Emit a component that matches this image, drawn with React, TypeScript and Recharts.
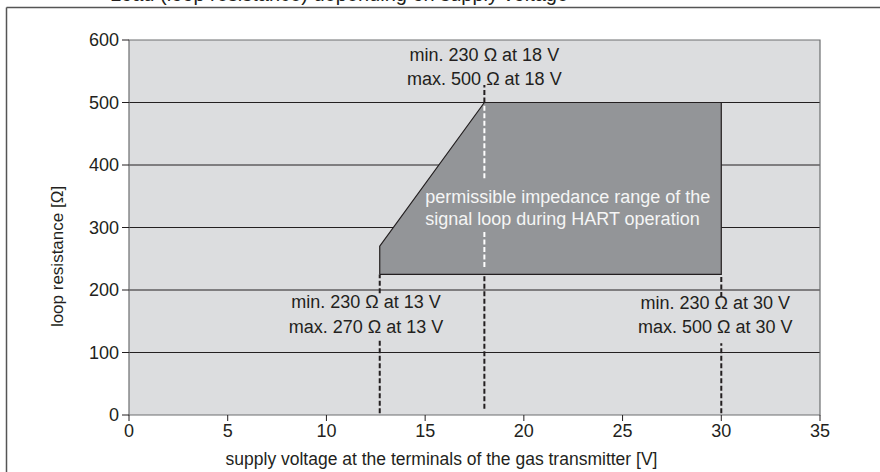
import React from 'react';
import {
  ComposedChart,
  Area,
  Line,
  XAxis,
  YAxis,
  CartesianGrid,
  ReferenceArea,
  ReferenceLine,
  ReferenceDot,
} from 'recharts';

const FONT = '"Liberation Sans", Arial, Helvetica, sans-serif';
const INK = '#231f20';

const xTicks = [0, 5, 10, 15, 20, 25, 30, 35];
const yTicks = [0, 100, 200, 300, 400, 500, 600];
const gridOhms = [100, 200, 300, 400, 500];

// permissible range: supply voltage -> min / max loop resistance
const rangeVolts = [12.7, 18, 30];
const rangeMinOhms = [225, 225, 225];
const rangeMaxOhms = [270, 500, 500];

// outline of the same range, walked round once
const outlineVolts = [12.7, 12.7, 18, 30, 30, 12.7];
const outlineOhms = [225, 270, 500, 500, 225, 225];

// dashed marker lines (voltage, from ohm, to ohm, white or black)
const markerVolts = [12.7, 12.7, 18, 18, 18, 18, 30, 30];
const markerFrom = [3, 195, 10, 237, 379, 500, 3, 189];
const markerTo = [120, 225, 225, 296, 499, 528, 115, 225];
const markerWhite = [false, false, false, true, true, false, false, false];

// annotations
const noteTexts = [
  'min. 230 Ω at 18 V',
  'max. 500 Ω at 18 V',
  'permissible impedance range of the',
  'signal loop during HART operation',
  'min. 230 Ω at 13 V',
  'max. 270 Ω at 13 V',
  'min. 230 Ω at 30 V',
  'max. 500 Ω at 30 V',
];
const noteVolts = [18, 18, 15, 15, 12, 12, 29.7, 29.7];
const noteOhms = [576, 538, 349, 314, 181, 141, 180, 141];
const noteInside = [false, false, true, true, false, false, false, false];

const xTitle = 'supply voltage at the terminals of the gas transmitter [V]';
const yTitle = 'loop resistance [Ω]';
const pageTitle = 'Load (loop resistance) depending on supply voltage';

const rangeData = rangeVolts.map((v, i) => ({ v, band: [rangeMinOhms[i], rangeMaxOhms[i]] }));
const outlineData = outlineVolts.map((v, i) => ({ v, ohm: outlineOhms[i] }));

const XTitle = ({ viewBox }: any) => (
  <text
    x={viewBox.x + viewBox.width / 2 - 33}
    y={viewBox.y + 50}
    textAnchor="middle"
    fill={INK}
    fontSize={17.5}
  >
    {xTitle}
  </text>
);

const YTitle = ({ viewBox }: any) => {
  const cx = 57;
  const cy = viewBox.y + viewBox.height / 2 + 29;
  return (
    <text
      x={cx}
      y={cy}
      transform={`rotate(-90, ${cx}, ${cy})`}
      textAnchor="middle"
      dominantBaseline="central"
      fill={INK}
      fontSize={17}
    >
      {yTitle}
    </text>
  );
};

export default function App() {
  return (
    <div
      style={{
        position: 'absolute',
        left: 0,
        top: 0,
        width: 880,
        height: 472,
        overflow: 'hidden',
        background: '#fff',
        fontFamily: FONT,
      }}
    >
      <svg width={880} height={472} style={{ position: 'absolute', left: 0, top: 0 }}>
        <text x={110} y={1} fill={INK} fontSize={20}>
          {pageTitle}
        </text>
        <line x1={6.5} y1={7.5} x2={880} y2={7.5} stroke="#555" strokeWidth={1.5} />
        <line x1={6.5} y1={7.5} x2={6.5} y2={472} stroke="#555" strokeWidth={1.5} />
      </svg>
      <div style={{ position: 'absolute', left: 0, top: 0 }}>
        <ComposedChart width={880} height={472} margin={{ top: 40, right: 60, bottom: 0, left: 0 }}>
          <CartesianGrid
            horizontal
            vertical={false}
            horizontalValues={gridOhms}
            stroke={INK}
            strokeWidth={1}
            fill="#dcdddf"
            fillOpacity={1}
          />
          <XAxis
            type="number"
            dataKey="v"
            domain={[0, 35]}
            ticks={xTicks}
            allowDataOverflow
            axisLine={false}
            tickLine={{ stroke: INK }}
            tickSize={6}
            tickMargin={3}
            height={57}
            tick={{ fill: INK, fontSize: 18 }}
            label={{ content: XTitle }}
          />
          <YAxis
            type="number"
            domain={[0, 600]}
            ticks={yTicks}
            allowDataOverflow
            axisLine={false}
            tickLine={{ stroke: INK }}
            tickSize={7}
            tickMargin={3}
            width={129}
            tick={{ fill: INK, fontSize: 18 }}
            label={{ content: YTitle }}
          />
          <ReferenceArea x1={0} x2={35} y1={0} y2={600} fill="none" stroke="#6d6e70" strokeWidth={1.2} />
          <Area
            data={rangeData}
            dataKey="band"
            type="linear"
            fill="#939598"
            fillOpacity={1}
            stroke="none"
            isAnimationActive={false}
          />
          <Line
            data={outlineData}
            dataKey="ohm"
            type="linear"
            stroke={INK}
            strokeWidth={1.2}
            dot={false}
            isAnimationActive={false}
          />
          {markerVolts.map((v, i) => (
            <ReferenceLine
              key={`m${i}`}
              segment={[
                { x: v, y: markerFrom[i] },
                { x: v, y: markerTo[i] },
              ]}
              stroke={markerWhite[i] ? '#ffffff' : INK}
              strokeWidth={2}
              strokeDasharray="5 2.5"
            />
          ))}
          {noteTexts.map((t, i) => (
            <ReferenceDot
              key={`n${i}`}
              x={noteVolts[i]}
              y={noteOhms[i]}
              r={0}
              fill="none"
              stroke="none"
              label={{
                value: t,
                position: noteInside[i] ? 'right' : 'center',
                offset: 0,
                fill: noteInside[i] ? '#f5f5f5' : INK,
                fontSize: 18,
              }}
            />
          ))}
        </ComposedChart>
      </div>
    </div>
  );
}
